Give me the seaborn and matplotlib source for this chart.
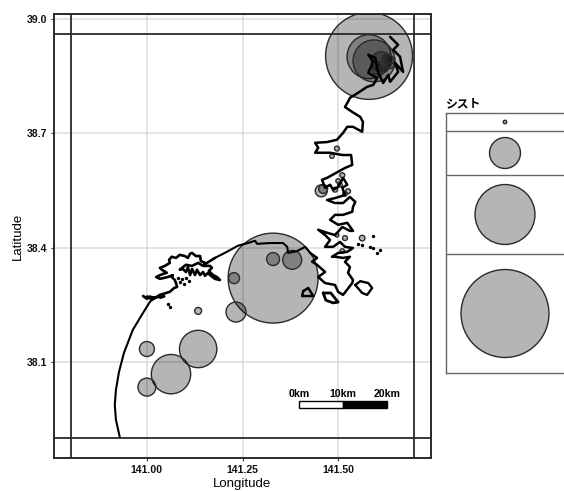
import matplotlib
matplotlib.use("Agg")
import matplotlib.pyplot as plt
import seaborn as sns
import pandas as pd

sw_lon = [140.929,140.919,140.916,140.919,140.927,140.940,140.963,140.990,141.008]
sw_lat = [37.903,37.948,37.987,38.027,38.074,38.124,38.184,38.229,38.258]
blob_lon = [140.990,141.000,141.008,141.021,141.000,141.013,141.029,141.042,141.034,141.045]
blob_lat = [38.273,38.266,38.271,38.268,38.271,38.265,38.271,38.276,38.269,38.272]
pen_lon = [141.021,141.034,141.060,141.071,141.079,141.076,141.073,141.065,141.068,141.055,141.034,141.024,141.042,141.052,141.039,141.034,141.047,141.060,141.058,141.065,141.076,141.086,141.099,141.107,141.113,141.118,141.128,141.139,141.141,141.152,141.149,141.165,141.170,141.162,141.173,141.183,141.191,141.178,141.165,141.160,141.152,141.147,141.139,141.131,141.126,141.118,141.113,141.107,141.102,141.094,141.086,141.102,141.118,141.134,141.147,141.157,141.178]
pen_lat = [38.268,38.276,38.284,38.294,38.297,38.307,38.315,38.323,38.328,38.323,38.318,38.323,38.331,38.334,38.342,38.347,38.352,38.360,38.368,38.376,38.373,38.381,38.378,38.373,38.384,38.386,38.378,38.378,38.365,38.360,38.352,38.352,38.347,38.339,38.328,38.323,38.315,38.318,38.328,38.334,38.326,38.336,38.328,38.342,38.328,38.344,38.328,38.349,38.336,38.344,38.342,38.355,38.352,38.360,38.352,38.360,38.373]
bay_lon = [141.178,141.209,141.238,141.264,141.283,141.288,141.322,141.356,141.367,141.369,141.393,141.414,141.427]
bay_lat = [38.373,38.389,38.405,38.412,38.418,38.410,38.412,38.412,38.402,38.386,38.391,38.402,38.386]
east_lon = [141.427,141.445,141.432,141.445,141.466,141.448,141.466,141.492,141.500,141.513,141.537,141.539,141.526,141.531,141.518,141.531,141.513,141.492,141.484,141.500,141.524,141.539,141.518,141.505,141.487,141.466,141.479,141.466,141.448,141.471,141.492,141.511,141.531,141.539,141.524,141.500,141.479,141.492,141.513,141.537,141.539,141.545,141.531,141.513,141.492,141.471,141.492,141.518,141.511,141.524,141.513,141.500,141.487,141.479,141.466,141.458,141.471,141.500,141.518,141.537,141.534,141.511,141.479,141.440,141.448,141.440,141.471,141.497,141.513,141.524,141.539,141.563,141.565,141.558,141.537,141.518,141.526,141.531,141.552,141.576,141.592,141.602,141.579,141.592,141.579,141.597,141.605,141.618,141.631,141.636,141.657,141.649,141.670,141.662,141.644,141.657,141.636]
east_lat = [38.386,38.373,38.363,38.355,38.336,38.323,38.307,38.302,38.284,38.276,38.307,38.315,38.334,38.349,38.363,38.376,38.373,38.376,38.376,38.386,38.389,38.399,38.402,38.415,38.402,38.402,38.420,38.433,38.447,38.439,38.433,38.454,38.444,38.444,38.465,38.460,38.473,38.486,38.486,38.494,38.507,38.520,38.533,38.517,38.517,38.525,38.530,38.538,38.557,38.565,38.583,38.559,38.552,38.565,38.557,38.578,38.583,38.599,38.609,38.617,38.643,38.643,38.649,38.649,38.662,38.675,38.677,38.683,38.701,38.717,38.717,38.704,38.730,38.743,38.756,38.769,38.783,38.793,38.806,38.822,38.827,38.845,38.859,38.888,38.906,38.898,38.859,38.832,38.853,38.835,38.861,38.885,38.861,38.901,38.919,38.932,38.953]
isl1_lon = [141.545,141.558,141.579,141.589,141.576,141.563,141.545]
isl1_lat = [38.302,38.312,38.307,38.294,38.276,38.281,38.302]
isl2_lon = [141.461,141.481,141.500,141.487,141.468,141.461]
isl2_lat = [38.281,38.281,38.257,38.255,38.262,38.281]
isl3_lon = [141.409,141.422,141.435,141.406,141.409]
isl3_lat = [38.286,38.294,38.273,38.273,38.286]
dot_lon = [141.592,141.552,141.563,141.584,141.592,141.602,141.610,141.081,141.092,141.102,141.086,141.110,141.097,141.055,141.060]
dot_lat = [38.431,38.410,38.407,38.402,38.399,38.386,38.394,38.320,38.318,38.320,38.309,38.312,38.305,38.252,38.245]

cyst_lon = [141.581,141.581,141.594,141.613,141.628,141.602,141.636,141.330,141.228,141.330,141.380,141.233,141.134,141.134,141.063,141.000,141.000,141.456,141.461,141.563,141.518,141.505,141.492,141.518,141.497,141.511,141.526,141.500,141.511,141.621,141.605,141.639,141.497,141.484]
cyst_lat = [38.903,38.901,38.890,38.888,38.895,38.867,38.893,38.320,38.320,38.370,38.368,38.231,38.234,38.134,38.068,38.134,38.034,38.549,38.554,38.425,38.425,38.565,38.552,38.541,38.433,38.391,38.548,38.575,38.590,38.870,38.880,38.878,38.660,38.640]
cyst_val = [1892,484,441,100,25,25,16,2025,30,42,90,100,12,350,388,56,81,36,20,8,6,5,6,5,4,5,6,5,6,12,9,9,6,5]

legend_vals = [3,240,900,1936]
legend_edges = [0,18,62,141,260]
legend_title = "シスト"

lon_ticks = [141.00,141.25,141.50]
lat_ticks = [38.1,38.4,38.7,39.0]
frame_lon = [140.801,141.699]
frame_lat = [37.900,38.960]
scale_lon = [141.398,141.513,141.628]
scale_lat = [37.980,37.998]
scale_labels = ["0km","10km","20km"]

sns.set_theme(style="white")
plt.rcParams['font.family'] = ['Liberation Sans','DejaVu Sans']
W,H = 564,491
fig = plt.figure(figsize=(W/100,H/100),dpi=100)
ax = fig.add_axes([54/W,1-458/H,377/W,444/H])
lax = fig.add_axes([446/W,1-373/H,118/W,260/H])

DARK = "#2a2a2a"
FILL = (0,0,0,0.29)
size_kw = dict(sizes=(2.07,2.07*2500),size_norm=(1,2500),legend=False,edgecolor=DARK,linewidth=1.0)

ax.grid(True,color="#dcdcdc",lw=1.1)
ax.set_axisbelow(True)

df = pd.DataFrame({"lon":cyst_lon,"lat":cyst_lat,"cyst":cyst_val}).sort_values("cyst",ascending=False)
sns.scatterplot(data=df,x="lon",y="lat",size="cyst",ax=ax,zorder=3,**size_kw)
ax.collections[-1].set_facecolor(FILL)

for xs,ys,lw in [(sw_lon,sw_lat,1.5),(sw_lon[-1:]+[141.021],sw_lat[-1:]+[38.268],1.5),(blob_lon,blob_lat,2.0),(pen_lon,pen_lat,1.9),
                 (bay_lon,bay_lat,1.5),(east_lon,east_lat,1.8),(isl1_lon,isl1_lat,1.7),(isl2_lon,isl2_lat,2.0),(isl3_lon,isl3_lat,1.8)]:
    sns.lineplot(x=xs,y=ys,sort=False,estimator=None,color="black",lw=lw,ax=ax,zorder=4)
sns.scatterplot(x=dot_lon,y=dot_lat,color="black",s=6,linewidth=0,ax=ax,zorder=4,legend=False)

for v in frame_lon:
    ax.axvline(v,color=DARK,lw=1.3,zorder=5)
for v in frame_lat:
    ax.axhline(v,color=DARK,lw=1.3,zorder=5)

ax.barh(sum(scale_lat)/2,scale_lon[1]-scale_lon[0],scale_lat[1]-scale_lat[0],left=scale_lon[0],color="white",edgecolor="black",lw=1,zorder=6)
ax.barh(sum(scale_lat)/2,scale_lon[2]-scale_lon[1],scale_lat[1]-scale_lat[0],left=scale_lon[1],color="black",edgecolor="black",lw=1,zorder=6)
for x,t in zip(scale_lon,scale_labels):
    ax.annotate(t,(x,scale_lat[1]),xytext=(0,1.5),textcoords="offset points",ha="center",va="bottom",fontsize=7.6,fontweight="bold",color="black",zorder=7)

ax.set_xlim(140.757,141.743)
ax.set_ylim(37.848,39.013)
ax.set_xticks(lon_ticks)
ax.set_xticklabels([f"{v:.2f}" for v in lon_ticks],fontsize=7.6,fontweight="bold",color="#111")
ax.set_yticks(lat_ticks)
ax.set_yticklabels([f"{v:.1f}" for v in lat_ticks],fontsize=7.6,fontweight="bold",color="#111")
ax.tick_params(length=2.2,width=0.8,color="#333",pad=2.5,bottom=True,left=True)
ax.set_xlabel("Longitude",fontsize=9.5,color="black",labelpad=2.5)
ax.set_ylabel("Latitude",fontsize=9.5,color="black",labelpad=2)
for s in ax.spines.values():
    s.set_color(DARK); s.set_linewidth(1.4); s.set_visible(True)

centers = [(legend_edges[i]+legend_edges[i+1])/2 for i in range(4)]
ldf = pd.DataFrame({"x":[59]*4,"y":centers,"cyst":legend_vals})
sns.scatterplot(data=ldf,x="x",y="y",size="cyst",ax=lax,**size_kw)
lax.collections[-1].set_facecolor(FILL)
for e in legend_edges[1:-1]:
    lax.axhline(e,color="#666",lw=1.0)
lax.set_xlim(0,118); lax.set_ylim(260,0)
lax.set_xticks([]); lax.set_yticks([]); lax.set_xlabel(""); lax.set_ylabel("")
for n,s in lax.spines.items():
    s.set_color("#666"); s.set_linewidth(1.0); s.set_visible(n!="right")
fig.text(445/W,1-104/H,legend_title,fontsize=8.5,fontweight="bold",family=['Noto Sans CJK JP','DejaVu Sans'],color="black",va="center",ha="left")

fig.savefig("out.png",dpi=100)
